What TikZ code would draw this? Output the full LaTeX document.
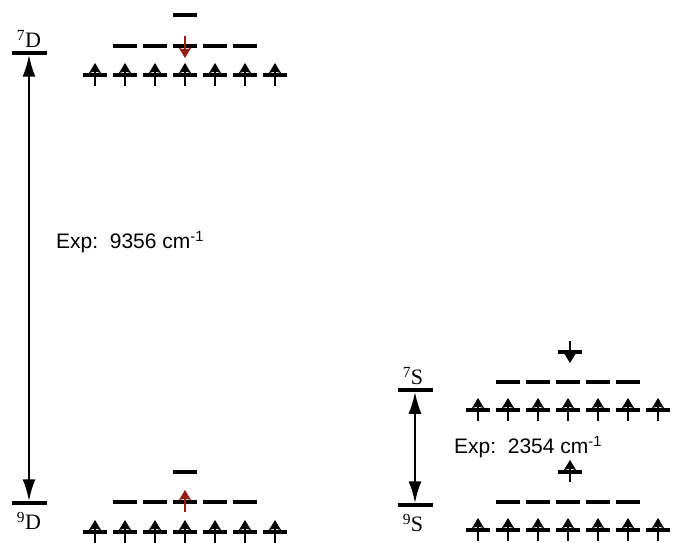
\documentclass[tikz,border=0pt]{standalone}
\usepackage{fontspec}
\setmainfont{Liberation Serif}
\setsansfont{Liberation Sans}
\usetikzlibrary{arrows.meta}
\definecolor{spinred}{RGB}{150,30,20}
\begin{document}
\begin{tikzpicture}[x=1pt,y=-1pt,
  orb/.style={fill=black, minimum width=24pt, minimum height=4pt, inner sep=0pt, outer sep=0pt},
  bar/.style={fill=black, minimum width=35pt, minimum height=3.5pt, inner sep=0pt, outer sep=0pt},
  spin/.style={line width=1.2pt, -{Stealth[length=10pt,width=12pt,inset=1.5pt]}},
  redspin/.style={spin, draw=spinred, fill=spinred},
  bigarrow/.style={line width=2.4pt, {Latex[length=22pt,width=13pt]}-{Latex[length=22pt,width=13pt]}},
  lab/.style={font=\fontsize{22}{26}\selectfont, inner sep=0pt},
  exptext/.style={font=\sffamily\fontsize{21}{25}\selectfont, anchor=west, inner sep=0pt}
]
\useasboundingbox (0,0) rectangle (673,543);

% ---------- term bars and labels ----------
\node[bar] (b7D) at (29,53) {};
\node[bar] (b9D) at (29,503) {};
\node[bar] (b7S) at (415,390) {};
\node[bar] (b9S) at (415,505) {};
\node[lab] (l7D) at (29,39) {\textsuperscript{7}D};
\node[lab] (l9D) at (29,521) {\textsuperscript{9}D};
\node[lab] (l7S) at (413,376) {\textsuperscript{7}S};
\node[lab] (l9S) at (413,523) {\textsuperscript{9}S};
\draw[bigarrow] (b7D.south) -- (b9D.north);
\draw[bigarrow] (b7S.south) -- (b9S.north);

\node[exptext] (e1) at (56,242) {Exp:\ \ 9356 cm\textsuperscript{-1}};
\node[exptext] (e2) at (454,447) {Exp:\ \ 2354 cm\textsuperscript{-1}};

% ---------- 7D configuration ----------
\foreach \i in {0,...,6} {
  \node[orb] (a\i) at (95+30*\i,75) {};
  \draw[spin] ([yshift=-11pt]a\i.center) -- ([yshift=12pt]a\i.center);
}
\foreach \i in {1,...,5} { \node[orb] (am\i) at (95+30*\i,46) {}; }
\node[orb] (at) at (185,15) {};
\draw[redspin] ([yshift=10pt]am3.center) -- ([yshift=-12pt]am3.center);

% ---------- 9D configuration ----------
\foreach \i in {0,...,6} {
  \node[orb] (c\i) at (95+30*\i,532) {};
  \draw[spin] ([yshift=-11pt]c\i.center) -- ([yshift=12pt]c\i.center);
}
\foreach \i in {1,...,5} { \node[orb] (cm\i) at (95+30*\i,502) {}; }
\node[orb] (ct) at (185,472) {};
\draw[redspin] ([yshift=-10pt]cm3.center) -- ([yshift=12pt]cm3.center);

% ---------- 7S configuration ----------
\foreach \i in {0,...,6} {
  \node[orb] (d\i) at (478+30*\i,410) {};
  \draw[spin] ([yshift=-11pt]d\i.center) -- ([yshift=12pt]d\i.center);
}
\foreach \i in {1,...,5} { \node[orb] (dm\i) at (478+30*\i,382) {}; }
\node[orb] (dt) at (570,352) {};
\draw[spin] ([yshift=11pt]dt.center) -- ([yshift=-11pt]dt.center);

% ---------- 9S configuration ----------
\foreach \i in {0,...,6} {
  \node[orb] (f\i) at (478+30*\i,530) {};
  \draw[spin] ([yshift=-11pt]f\i.center) -- ([yshift=12pt]f\i.center);
}
\foreach \i in {1,...,5} { \node[orb] (fm\i) at (478+30*\i,502) {}; }
\node[orb] (ft) at (570,472) {};
\draw[spin] ([yshift=-10pt]ft.center) -- ([yshift=12pt]ft.center);
\end{tikzpicture}
\end{document}
